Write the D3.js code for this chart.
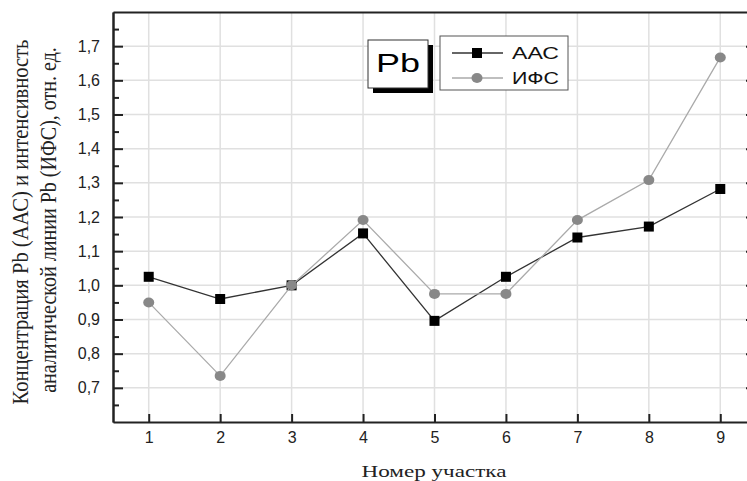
<!DOCTYPE html>
<html>
<head>
<meta charset="utf-8">
<script src="https://cdn.jsdelivr.net/npm/d3@7"></script>
<style>
  body { margin: 0; background: #fff; }
  svg { display: block; }
</style>
</head>
<body>
<div id="d3-container"></div>
<script>
// site numbers and the two series (relative units)
const sites = [1, 2, 3, 4, 5, 6, 7, 8, 9];
const aas = [1.025, 0.960, 1.000, 1.152, 0.896, 1.025, 1.140, 1.172, 1.282];
const ifs = [0.950, 0.735, 1.000, 1.191, 0.975, 0.975, 1.191, 1.308, 1.667];
const yTicks = [0.7, 0.8, 0.9, 1.0, 1.1, 1.2, 1.3, 1.4, 1.5, 1.6, 1.7];
const yMinor = [0.65, 0.75, 0.85, 0.95, 1.05, 1.15, 1.25, 1.35, 1.45, 1.55, 1.65, 1.75];
const seriesNames = ["ААС", "ИФС"];
const element = "Pb";
const xTitle = "Номер участка";
const yTitle = ["Концентрация Pb (ААС) и интенсивность", "аналитической линии Pb (ИФС), отн. ед."];

const w = 747, h = 481;
const pLeft = 113, pRight = 756, pTop = 12, pBottom = 422;

const svg = d3.select("#d3-container")
  .append("svg")
  .attr("width", w)
  .attr("height", h)
  .attr("id", "chart");

const x = d3.scaleLinear().domain([0.5, 9.5]).range([pLeft, pRight]);
const y = d3.scaleLinear().domain([0.6, 1.8]).range([pBottom, pTop]);

const fmt = d => d3.format(".1f")(d).replace(".", ",");

// grid
svg.append("g")
  .selectAll("line")
  .data(yTicks)
  .join("line")
  .attr("x1", pLeft).attr("x2", pRight)
  .attr("y1", d => y(d)).attr("y2", d => y(d))
  .attr("stroke", "#e0e0e0").attr("stroke-width", 1.5);

svg.append("g")
  .selectAll("line")
  .data(sites)
  .join("line")
  .attr("x1", d => x(d)).attr("x2", d => x(d))
  .attr("y1", pTop).attr("y2", pBottom)
  .attr("stroke", "#e0e0e0").attr("stroke-width", 1.5);

// axes
function styleAxis(g) {
  g.select(".domain").attr("stroke", "#222").attr("stroke-width", 2);
  g.selectAll(".tick line").attr("stroke", "#222").attr("stroke-width", 2);
  g.selectAll("text")
    .style("font-family", "'Liberation Sans', Arial, sans-serif")
    .style("font-size", "16px")
    .attr("fill", "#222");
}

svg.append("g")
  .attr("transform", `translate(${pLeft},0)`)
  .call(d3.axisLeft(y).tickValues(yMinor).tickSizeInner(-6).tickSizeOuter(0).tickFormat(""))
  .call(styleAxis);

svg.append("g")
  .attr("transform", `translate(${pLeft},0)`)
  .call(d3.axisLeft(y).tickValues(yTicks).tickSizeInner(-10).tickSizeOuter(0).tickPadding(13).tickFormat(fmt))
  .call(styleAxis);

svg.append("g")
  .attr("transform", `translate(${pRight},0)`)
  .call(d3.axisRight(y).tickValues(yTicks).tickSizeInner(-10).tickSizeOuter(0).tickFormat(""))
  .call(styleAxis);

svg.append("g")
  .attr("transform", `translate(0,${pBottom})`)
  .call(d3.axisBottom(x).tickValues(sites).tickSizeInner(-8).tickSizeOuter(0).tickPadding(10).tickFormat(d3.format("d")))
  .call(styleAxis);

svg.append("g")
  .attr("transform", `translate(0,${pTop})`)
  .call(d3.axisTop(x).tickValues([]).tickSizeOuter(0))
  .call(styleAxis);

// lines
const line = d3.line().x((d, i) => x(sites[i])).y(d => y(d));

svg.append("path")
  .datum(aas)
  .attr("d", line)
  .attr("fill", "none")
  .attr("stroke", "#333")
  .attr("stroke-width", 1.3);

svg.append("g")
  .selectAll("rect")
  .data(aas)
  .join("rect")
  .attr("x", (d, i) => x(sites[i]) - 5)
  .attr("y", d => y(d) - 5)
  .attr("width", 10)
  .attr("height", 10)
  .attr("fill", "#000");

svg.append("path")
  .datum(ifs)
  .attr("d", line)
  .attr("fill", "none")
  .attr("stroke", "#aaa")
  .attr("stroke-width", 1.3);

svg.append("g")
  .selectAll("ellipse")
  .data(ifs)
  .join("ellipse")
  .attr("cx", (d, i) => x(sites[i]))
  .attr("cy", d => y(d))
  .attr("rx", 5.5)
  .attr("ry", 5)
  .attr("fill", "#888");

// "Pb" box with shadow
svg.append("rect")
  .attr("x", 373).attr("y", 45).attr("width", 60).attr("height", 48)
  .attr("fill", "#000");
svg.append("rect")
  .attr("x", 368).attr("y", 40).attr("width", 60).attr("height", 48)
  .attr("fill", "#fff").attr("stroke", "#333").attr("stroke-width", 1);
svg.append("text")
  .attr("x", 398).attr("y", 72)
  .attr("text-anchor", "middle")
  .attr("textLength", 44).attr("lengthAdjust", "spacingAndGlyphs")
  .style("font-family", "'Liberation Sans', Arial, sans-serif")
  .style("font-size", "26px")
  .text(element);

// legend
const lg = svg.append("g");
lg.append("rect")
  .attr("x", 440).attr("y", 36).attr("width", 128).attr("height", 54)
  .attr("fill", "#fff").attr("stroke", "#555").attr("stroke-width", 1);

const legendRows = [
  { name: seriesNames[0], stroke: "#333", fill: "#000", shape: "square", cy: 53 },
  { name: seriesNames[1], stroke: "#aaa", fill: "#888", shape: "circle", cy: 78 }
];
legendRows.forEach(r => {
  lg.append("line")
    .attr("x1", 452).attr("x2", 503).attr("y1", r.cy).attr("y2", r.cy)
    .attr("stroke", r.stroke).attr("stroke-width", 1.3);
  if (r.shape === "square") {
    lg.append("rect").attr("x", 472).attr("y", r.cy - 5).attr("width", 10).attr("height", 10).attr("fill", r.fill);
  } else {
    lg.append("ellipse").attr("cx", 477).attr("cy", r.cy).attr("rx", 5.5).attr("ry", 5).attr("fill", r.fill);
  }
  lg.append("text")
    .attr("x", 512).attr("y", r.cy + 6)
    .attr("textLength", 47).attr("lengthAdjust", "spacingAndGlyphs")
    .style("font-family", "'Liberation Sans', Arial, sans-serif")
    .style("font-size", "17px")
    .attr("fill", "#111")
    .text(r.name);
});

// axis titles
svg.append("text")
  .attr("x", 434)
  .attr("y", 477)
  .attr("text-anchor", "middle")
  .attr("textLength", 145).attr("lengthAdjust", "spacingAndGlyphs")
  .style("font-family", "'Liberation Serif', 'Times New Roman', serif")
  .style("font-size", "17px")
  .attr("fill", "#222")
  .text(xTitle);

// rotated title lines, squeezed along their length to fit
function yLabel(txt, bx, cy, len) {
  const t = svg.append("text")
    .attr("text-anchor", "middle")
    .style("font-family", "'Liberation Serif', 'Times New Roman', serif")
    .style("font-size", "24px")
    .attr("fill", "#222")
    .text(txt);
  const k = len / t.node().getComputedTextLength();
  t.attr("transform", `translate(${bx},${cy}) rotate(-90) scale(${k},1)`);
}
yLabel(yTitle[0], 28, 222, 365);
yLabel(yTitle[1], 56, 220, 346);
</script>
</body>
</html>
